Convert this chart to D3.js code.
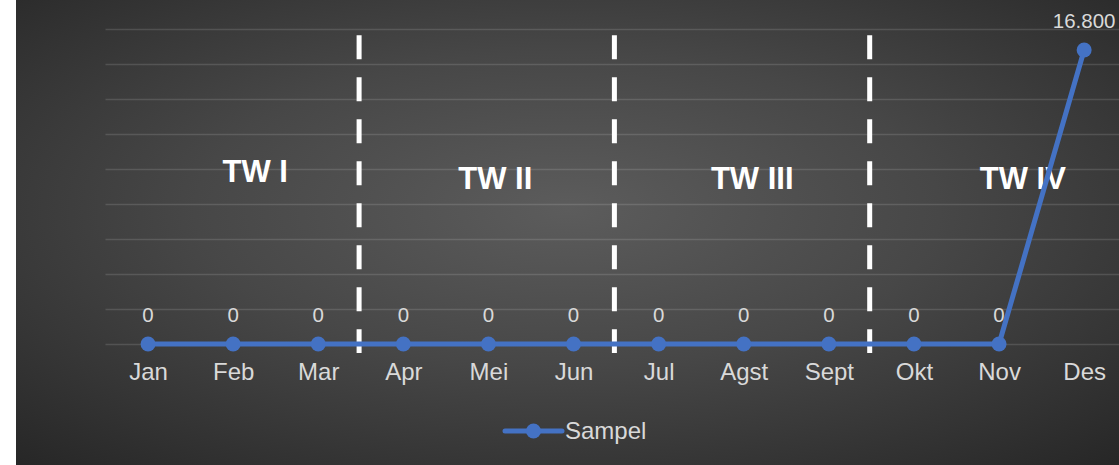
<!DOCTYPE html>
<html>
<head>
<meta charset="utf-8">
<script src="https://cdn.jsdelivr.net/npm/d3@7"></script>
<style>
  html, body { margin: 0; padding: 0; background: #ffffff; }
  svg { display: block; }
  text { font-family: "Liberation Sans", Arial, sans-serif; }
</style>
</head>
<body>
<svg id="chart" width="1119" height="465"></svg>
<script>
const months = ["Jan","Feb","Mar","Apr","Mei","Jun","Jul","Agst","Sept","Okt","Nov","Des"];
const sampel = [0,0,0,0,0,0,0,0,0,0,0,16800];
const valueLabels = ["0","0","0","0","0","0","0","0","0","0","0","16.800"];
const yTicks = [0,2000,4000,6000,8000,10000,12000,14000,16000,18000];
const quarterLabels = ["TW I","TW II","TW III","TW IV"];
const quarterIdx = [1.26, 4.08, 7.1, 10.28];
const quarterVal = [9250, 8850, 8850, 8870];
const dividerIdx = [2.48, 5.48, 8.48];
const seriesName = "Sampel";

const W = 1119, H = 465;
const svg = d3.select("#chart");

// background
const defs = svg.append("defs");
const grad = defs.append("radialGradient").attr("id","bg")
  .attr("cx","50%").attr("cy","45%").attr("r","75%");
grad.append("stop").attr("offset","0%").attr("stop-color","#5c5c5c");
grad.append("stop").attr("offset","45%").attr("stop-color","#474747");
grad.append("stop").attr("offset","100%").attr("stop-color","#262626");
svg.append("rect").attr("x",16).attr("y",0).attr("width",W-16).attr("height",H)
  .attr("fill","url(#bg)");

const x = d3.scalePoint().domain(months).range([105.5, 1126.7]).padding(0.5);
const xi = d3.scaleLinear().domain([0, 11]).range([x(months[0]), x(months[11])]);
const y = d3.scaleLinear().domain([0, 18000]).range([344, 29]);

// gridlines
const grid = d3.axisLeft(y).tickValues(yTicks).tickSize(-(1126.7-105.5)).tickFormat("");
const gg = svg.append("g").attr("transform","translate(105.5,0)").call(grid);
gg.select(".domain").remove();
gg.selectAll("line").attr("stroke","rgba(255,255,255,0.13)").attr("stroke-width",1.5);

// x axis labels
const xa = d3.axisBottom(x).tickSize(0).tickPadding(0);
const xg = svg.append("g").attr("transform","translate(0,380)").call(xa);
xg.attr("font-size",null).attr("font-family",null);
xg.select(".domain").remove();
xg.selectAll("text").attr("dy",0).attr("y",0).attr("fill","#d9d9d9")
  .style("font-size","24px").style("font-family","Liberation Sans, Arial, sans-serif");

// dividers
svg.append("g").selectAll("line").data(dividerIdx).join("line")
  .attr("x1", d => xi(d)).attr("x2", d => xi(d))
  .attr("y1", y(17650)).attr("y2", y(0) + 9)
  .attr("stroke","#ffffff").attr("stroke-width",5)
  .attr("stroke-dasharray","24 18");

// quarter labels
svg.append("g").selectAll("text").data(quarterLabels).join("text")
  .attr("x",(d,i) => xi(quarterIdx[i])).attr("y",(d,i) => y(quarterVal[i]))
  .attr("text-anchor","middle").attr("fill","#ffffff")
  .style("font-size","31px").attr("font-weight","bold").text(d => d);

// line
const line = d3.line().x((d,i) => x(months[i])).y(d => y(d));
svg.append("path").datum(sampel).attr("d", line)
  .attr("fill","none").attr("stroke","#4472c4").attr("stroke-width",5)
  .attr("stroke-linejoin","round");
svg.append("g").selectAll("circle").data(sampel).join("circle")
  .attr("cx",(d,i) => x(months[i])).attr("cy", d => y(d)).attr("r",7.5)
  .attr("fill","#4472c4");

// value labels
svg.append("g").selectAll("text").data(sampel).join("text")
  .attr("x",(d,i) => x(months[i])).attr("y", d => y(d) - 22)
  .attr("text-anchor","middle").attr("fill","#d9d9d9").style("font-size","20.5px")
  .text((d,i) => valueLabels[i]);

// legend
const lg = svg.append("g");
lg.append("line").attr("x1",505).attr("x2",562).attr("y1",431).attr("y2",431)
  .attr("stroke","#4472c4").attr("stroke-width",5).attr("stroke-linecap","round");
lg.append("circle").attr("cx",533.5).attr("cy",431).attr("r",7.5).attr("fill","#4472c4");
lg.append("text").attr("x",565).attr("y",439).attr("fill","#d9d9d9")
  .style("font-size","24px").text(seriesName);
</script>
</body>
</html>
